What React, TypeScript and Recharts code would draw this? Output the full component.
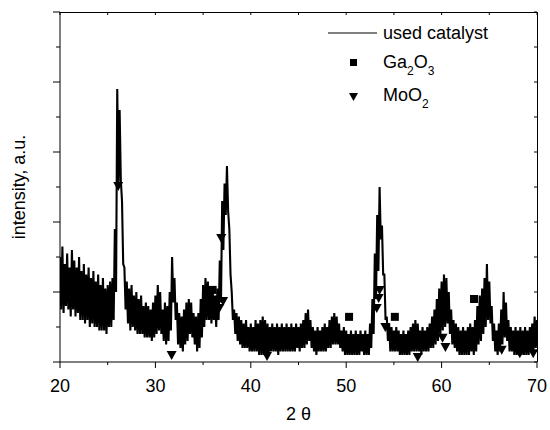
import { ComposedChart, Line, Scatter, XAxis, YAxis, Legend } from "recharts";

const FONT = "'Liberation Sans', Arial, sans-serif";
const INK = "#000";
const W = 550;
const H = 430;
const MARGIN = { top: 12, right: 13, bottom: 0, left: 0 };
const Y_AXIS_W = 60;
const X_AXIS_H = 68;

// XRD trace, sampled every 0.25° from 20° to 70°: upper / lower edge of the noise band
const START = 20;
const STEP = 0.25;
const HI = [
  30, 33, 28, 31, 27, 32, 29, 27, 30, 26, 28, 25, 27, 24, 26, 23, 25, 22, 24, 21,
  22, 23, 24, 38, 78, 72, 46, 27, 23, 21, 22, 19, 20, 18, 19, 16, 17, 16, 15, 17,
  19, 22, 20, 15, 17, 16, 20, 30, 24, 17, 14, 13, 15, 17, 18, 17, 14, 13, 14, 18,
  22, 24, 23, 20, 21, 19, 21, 29, 46, 51, 56, 38, 20, 15, 14, 13, 12, 11, 12, 10,
  11, 10, 12, 11, 12, 13, 12, 11, 10, 11, 10, 11, 10, 11, 10, 11, 10, 11, 10, 11,
  10, 11, 12, 14, 15, 12, 10, 9, 10, 9, 10, 11, 10, 12, 13, 14, 13, 11, 9, 10,
  9, 8, 9, 8, 9, 8, 9, 8, 9, 8, 11, 18, 31, 42, 50, 39, 25, 13, 11, 10,
  9, 10, 9, 8, 9, 8, 9, 10, 11, 12, 11, 9, 10, 9, 10, 11, 13, 15, 18, 21,
  23, 25, 24, 20, 15, 12, 11, 10, 9, 10, 9, 10, 11, 10, 12, 16, 19, 21, 24, 28,
  23, 16, 11, 9, 11, 15, 20, 17, 12, 10, 9, 10, 9, 10, 9, 10, 9, 10, 11, 13,
  12,
];
const LO = [
  15, 14, 16, 15, 13, 15, 13, 14, 12, 12, 11, 12, 10, 11, 10, 10, 9, 9, 9, 8,
  10, 10, 12, 20, 50, 52, 28, 15, 11, 9, 10, 9, 8, 8, 8, 7, 7, 7, 6, 7,
  8, 9, 8, 6, 5, 6, 9, 17, 12, 5, 4, 3, 5, 6, 8, 7, 5, 3, 4, 7,
  10, 12, 12, 11, 12, 10, 12, 17, 32, 42, 43, 25, 12, 8, 6, 5, 4, 4, 4, 3,
  3, 3, 3, 2, 2, 2, 2, 2, 3, 3, 3, 2, 3, 3, 3, 3, 3, 3, 3, 4,
  3, 4, 4, 5, 6, 4, 3, 2, 3, 3, 3, 3, 4, 4, 5, 5, 5, 4, 3, 2,
  2, 2, 2, 2, 2, 2, 3, 2, 2, 2, 4, 8, 18, 26, 35, 25, 12, 6, 3, 3,
  3, 3, 2, 2, 2, 2, 2, 3, 3, 3, 3, 2, 3, 3, 3, 4, 4, 5, 6, 8,
  9, 10, 11, 8, 5, 4, 3, 2, 2, 2, 2, 2, 3, 2, 3, 5, 6, 8, 10, 12,
  11, 6, 3, 2, 3, 5, 7, 6, 3, 3, 2, 2, 2, 2, 2, 2, 2, 3, 3, 4,
  4,
];

// phase markers
const GA2O3 = [
  { x: 36.0, y: 20.6 },
  { x: 50.3, y: 12.9 },
  { x: 55.1, y: 12.9 },
  { x: 63.4, y: 18.0 },
];
const MOO2 = [
  { x: 26.1, y: 50.3 },
  { x: 31.7, y: 2.0 },
  { x: 36.7, y: 15.4 },
  { x: 36.9, y: 35.4 },
  { x: 37.1, y: 17.4 },
  { x: 41.7, y: 1.7 },
  { x: 53.2, y: 15.4 },
  { x: 53.4, y: 18.3 },
  { x: 53.5, y: 20.6 },
  { x: 54.1, y: 10.0 },
  { x: 57.5, y: 1.4 },
  { x: 60.1, y: 6.9 },
  { x: 60.4, y: 4.3 },
  { x: 66.3, y: 3.5 },
  { x: 68.2, y: 2.5 },
  { x: 69.6, y: 2.5 },
];

const X_TICKS = [20, 25, 30, 35, 40, 45, 50, 55, 60, 65, 70];
const Y_TICKS = [0, 10, 20, 30, 40, 50, 60, 70, 80, 90, 100];

const trace = HI.flatMap((hi, i) => {
  const x = START + i * STEP;
  const pts = [{ x, y: hi }];
  if (i < HI.length - 1) pts.push({ x: x + STEP / 2, y: LO[i] });
  return pts;
});

const SquareMark = (p: any) => (
  <rect x={p.cx - 4} y={p.cy - 4} width={8} height={8} fill={INK} />
);
const TriMark = (p: any) => (
  <polygon
    points={`${p.cx - 5},${p.cy - 4} ${p.cx + 5},${p.cy - 4} ${p.cx},${p.cy + 5}`}
    fill={INK}
  />
);

function BottomTick({ x, y, payload }: any) {
  const major = payload.value % 10 === 0;
  return (
    <g>
      <line x1={x} x2={x} y1={y} y2={y + (major ? 6 : 3)} stroke={INK} />
      {major && (
        <text x={x} y={y + 30} textAnchor="middle" fontSize={18} fontFamily={FONT} fill={INK}>
          {payload.value}
        </text>
      )}
    </g>
  );
}

function LeftTick({ x, y, payload }: any) {
  const major = payload.value % 20 === 0;
  return <line x1={x - (major ? 7 : 4)} x2={x} y1={y} y2={y} stroke={INK} />;
}

// top and right edges of the box, with inward ticks
function Frame() {
  const left = MARGIN.left + Y_AXIS_W;
  const right = W - MARGIN.right;
  const top = MARGIN.top;
  const bottom = H - MARGIN.bottom - X_AXIS_H;
  const x0 = X_TICKS[0];
  const xSpan = X_TICKS[X_TICKS.length - 1] - x0;
  const y0 = Y_TICKS[0];
  const ySpan = Y_TICKS[Y_TICKS.length - 1] - y0;
  return (
    <svg
      width={W}
      height={H}
      style={{ position: "absolute", left: 0, top: 0, pointerEvents: "none" }}
    >
      <path d={`M${left},${top + 0.5}H${right + 0.5}V${bottom}`} stroke={INK} fill="none" />
      {X_TICKS.map((t) => {
        const x = left + ((t - x0) / xSpan) * (right - left);
        return <line key={`t${t}`} x1={x} x2={x} y1={top} y2={top + 3} stroke={INK} />;
      })}
      {Y_TICKS.map((t) => {
        const y = bottom - ((t - y0) / ySpan) * (bottom - top);
        return <line key={`r${t}`} x1={right - 3} x2={right} y1={y} y2={y} stroke={INK} />;
      })}
    </svg>
  );
}

function LegendBox() {
  return (
    <svg width={220} height={100} style={{ fontFamily: FONT }}>
      <line x1={8} x2={57} y1={19} y2={19} stroke={INK} strokeWidth={1} />
      <text x={63} y={25} fontSize={18} fill={INK}>used catalyst</text>
      <rect x={30} y={45} width={7} height={7} fill={INK} />
      <text x={63} y={54} fontSize={18} fill={INK}>
        Ga<tspan fontSize={12} dy={7}>2</tspan>
        <tspan dy={-7}>O</tspan>
        <tspan fontSize={12} dy={7}>3</tspan>
      </text>
      <polygon points="29,79 38,79 33.5,87" fill={INK} />
      <text x={63} y={87} fontSize={18} fill={INK}>
        MoO<tspan fontSize={12} dy={7}>2</tspan>
      </text>
    </svg>
  );
}

export default function App() {
  return (
    <div style={{ position: "absolute", left: 0, top: 0, width: W, height: H, background: "#fff" }}>
      <ComposedChart width={W} height={H} margin={MARGIN}>
        <XAxis
          type="number"
          dataKey="x"
          domain={[20, 70]}
          ticks={X_TICKS}
          allowDataOverflow
          height={X_AXIS_H}
          stroke={INK}
          tickSize={0}
          tickMargin={0}
          tickLine={false}
          tick={<BottomTick />}
          label={{
            content: ({ viewBox }: any) => (
              <text
                x={viewBox.x + viewBox.width / 2}
                y={viewBox.y + 58}
                textAnchor="middle"
                fontSize={18}
                fontFamily={FONT}
                fill={INK}
              >
                2 θ
              </text>
            ),
          }}
        />
        <YAxis
          type="number"
          domain={[0, 100]}
          ticks={Y_TICKS}
          allowDataOverflow
          width={Y_AXIS_W}
          stroke={INK}
          tickSize={0}
          tickMargin={0}
          tickLine={false}
          tick={<LeftTick />}
          label={{
            content: ({ viewBox }: any) => {
              const cx = viewBox.x + 25;
              const cy = viewBox.y + viewBox.height / 2;
              return (
                <text
                  transform={`translate(${cx},${cy}) rotate(-90)`}
                  textAnchor="middle"
                  fontSize={18}
                  fontFamily={FONT}
                  fill={INK}
                >
                  intensity, a.u.
                </text>
              );
            },
          }}
        />
        <Line
          data={trace}
          dataKey="y"
          type="linear"
          stroke={INK}
          strokeWidth={2.1}
          strokeLinejoin="miter"
          dot={false}
          isAnimationActive={false}
        />
        <Scatter data={GA2O3} dataKey="y" shape={SquareMark} isAnimationActive={false} />
        <Scatter data={MOO2} dataKey="y" shape={TriMark} isAnimationActive={false} />
        <Legend
          layout="horizontal"
          verticalAlign="middle"
          align="center"
          wrapperStyle={{ left: 320, top: 14, width: 220, height: 100 }}
          content={() => <LegendBox />}
        />
      </ComposedChart>
      <Frame />
    </div>
  );
}
